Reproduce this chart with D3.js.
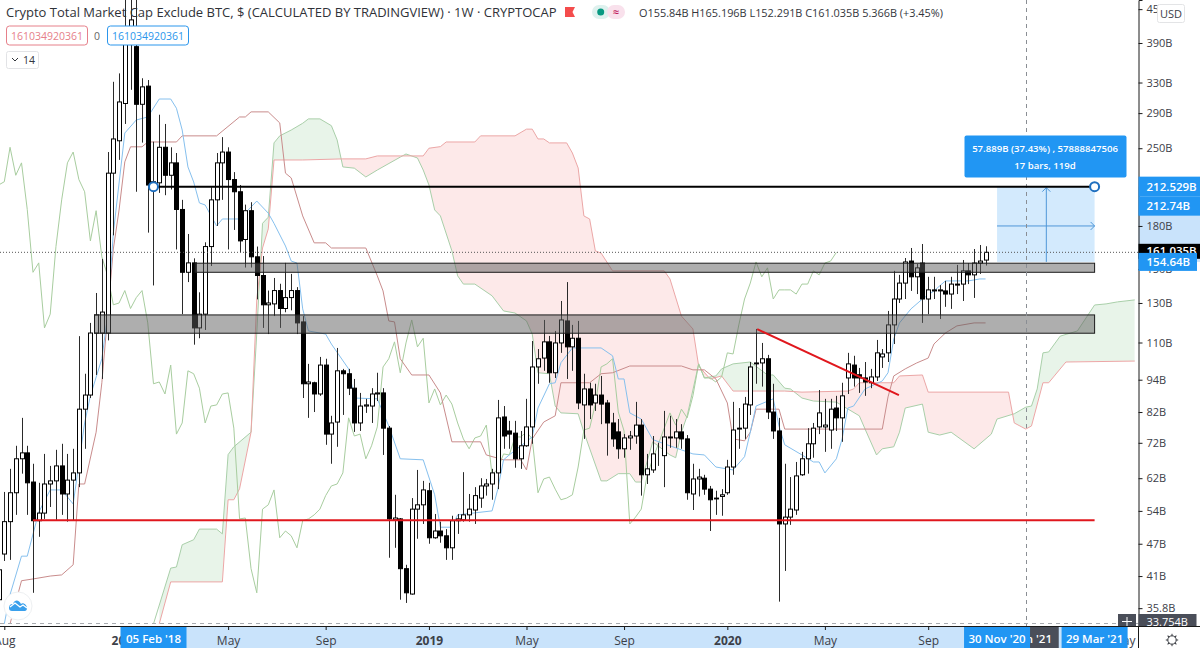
<!DOCTYPE html>
<html>
<head>
<meta charset="utf-8">
<script src="https://cdn.jsdelivr.net/npm/d3@7"></script>
<style>
  body { margin: 0; background: #fff; }
  text { font-family: "Open Sans", sans-serif; }
  .axis text { fill: #3c4048; }
</style>
</head>
<body>
<div id="chart"></div>
<script>
// weekly candles in $B, the first one is the week of 31 Jul 2017
var opens = [37.1,45,51.6,58.3,67.3,69,61,51.8,53.5,60.5,
  61.3,65.3,58,61.5,63.4,83,88.1,114.5,114.5,114.5,
  225,258,302,392,384,301,325,213,216,251,
  223,235,193,148,154,117,124,165,201,235,
  246,219,208,170,192,158,146,129,129.5,137,
  127,133,137,120,92.4,92.8,88.5,100,74.7,78.6,
  97.6,96.4,90.7,78.3,84.1,84.1,88.5,88.9,76.6,52,
  52.2,42.3,38,54.4,55.4,58.8,48.2,49.6,48.6,46.2,
  51.8,52,53.1,54.2,57,60,60.5,63.4,80.3,75.7,
  75,67.3,71.1,77,99.2,103,110.3,96.8,109.8,120.5,
  108,112,84.5,90.4,85.2,88.1,85.2,78.3,75.4,70.2,
  73.5,74.1,77.6,62.9,64.2,68.4,68.2,73.5,73.5,75.4,
  73.2,58,61.8,62,59.2,56.8,57.4,58.3,65,76.3,
  76.6,84.5,100.9,100.9,102.7,82,75.7,51.1,52.6,54.2,
  62.9,67.3,71.7,77,77,76,83.4,80,94.7,100,
  96,94.7,92.8,95.1,103.5,105.3,118.5,132.2,141.4,155.2,
  145.2,153.9,132.2,136.8,136.8,136.8,135,140.2,140.8,148.9,
  146.4,153.9,155.84];
var closes = [42.1,51.6,58.3,67.3,69,60.8,51.8,53.5,60.5,61.3,
  65.3,58,61.5,63.4,83,88.1,114.5,123.6,125.1,225,
  260,304,392,430,301,324,214,217,251,223,
  235,193,148,154,117,124,165,201,235,246,
  219,208,169,192,158,146,129,130,137,127,
  133,137,119.5,92.4,93.1,88.5,100,74.7,78.3,97.6,
  96.4,90.7,78.3,84.1,84.5,88.5,88.9,76.6,52.2,52.4,
  42.3,38.2,54.4,55.4,59,48.2,49.6,48.6,46.2,51.8,
  52.2,53.1,54.4,57.6,60,60.5,63.4,80,74.1,74.7,
  67.3,71.1,77,99.2,102.7,110.3,96.8,109.8,121,108,
  112,85.2,90.4,84.5,88.1,84.8,78.3,73.2,70.2,73.5,
  74.1,77.6,62.9,64.5,68.7,68.4,73.8,73.8,75.4,73.2,
  58.3,61.8,62.3,59.2,56.6,57,57.8,65,76,76.6,
  84.8,99.2,100.5,102.7,82,75.7,51.1,52.6,54.4,62.6,
  67.3,71.7,76.6,81.7,77.6,83,80,87.8,100.5,94.7,
  94.7,93.1,95.1,105.3,104.8,118.5,132.2,141.4,154.6,145.2,
  150.8,132.2,137.4,137.4,137.4,135,140.8,140.8,148.9,146.4,
  153.9,155.2,161.035];
var highs = [45.2,58.5,64.5,71.1,80,71.1,65.9,60.8,68.7,65.3,
  69.9,71.7,68.7,70.2,113,96.4,119.5,135.6,156.6,246,
  331,343,468,468,468,336,333.5,257,288,277,
  251,245,201,174,157,136,168,212,245,262,
  251,226,214,197,199,165,158.5,137,144.5,141,
  154,147,139,123,100.5,93.2,103.5,102.7,80.7,107.5,
  98.4,98.4,94.3,88.9,86.7,90.7,96.8,90.7,77.3,57.8,
  52.4,43,57,64.2,61.3,60.8,53.3,51.6,50,52.9,
  53.3,63.6,58,59.7,62,61.8,64.5,86.3,84.1,79,
  79,75.7,86.7,110.7,107,121,113.1,115.5,131.1,142,
  118.5,120.5,96.4,92.8,92.4,95.5,86.3,81.7,79.6,74.7,
  75.7,85.6,79.6,68.7,74.1,72,82.4,80.7,79.6,77.9,
  74.4,65.9,64.5,62.9,60,58.8,59.2,67,85.6,83.4,
  87.4,101.3,116.5,109.8,104.4,92.4,80,65.9,62.3,66.4,
  69.3,76.6,78.3,90,86.7,86.7,87.8,92.8,105.3,104,
  98.8,101.3,98.4,111.2,107,125.7,148.9,146.4,157.2,164,
  153.3,166.8,145.2,145.2,140.2,142.7,145.2,152.7,155.9,153.9,
  163.3,166.1,165.196];
var lows = [33.4,43.7,43.9,53.1,63.2,53.1,38.2,48.4,52.2,54.9,
  52,53.1,51.6,51.8,59.7,70.2,87,95.9,94.3,111,
  173,238,277,320,208,256,175,140,207,205,
  210,163,124,142,109,112,116,152,180,201,
  163,177,161,151,151,132,117,114,123,117,
  125,126,114,87,80,82,87.8,71.4,65.9,70.8,
  81,88.1,75.4,75.7,81.7,78.3,85.9,68.4,44.3,46.2,
  37.1,36.6,37.9,48,51.1,47,48,47.2,43.9,43.9,
  49,51.6,51.6,51.1,54.7,57.6,56.6,59.2,70.2,70.2,
  64.8,64.5,70.8,71.7,92.4,97.6,92.8,94.7,105.3,94.3,
  97.6,83,73.2,79.6,82.4,77.9,68.2,70.8,67.3,67.6,
  69.9,71.7,57.6,60.5,63.4,65.3,59.7,70.5,70.5,70.2,
  56.6,54.2,57.4,57.8,49.6,53.1,52.9,57.8,62.9,70.2,
  73.2,81,92.4,91.3,79.6,73.2,36.8,41.9,50.9,53.1,
  62.6,63.2,67.6,74.7,69.3,70.2,75.7,72.3,88.5,91.3,
  88.9,87.8,90.7,93.5,98.8,101.3,109.3,130,132.2,136.8,
  135,119.5,124,132.2,121.5,127.9,126.8,135,131.1,140.8,
  132.8,147,152.291];

// ichimoku, [week, $B], week 0 is 07 Aug 2017
var tenkan = [[0,33.5],[1,37.9],[3,44.6],[4,44.6],[6,53.7],[8,59],[10,59],[12,55.6],[14,78.3],[15,87.8],[17,102.7],[18,123],[19,174.7],[21,266.6],[23,281.7],[25,285.3],[27,307.8],[29,307.8],[30,296],[31,270],[32,231],[33,216.8],[34,198.4],[35,196.7],[37,180],[38,185.4],[41,185.4],[44,200],[46,190],[47,182],[49,165.4],[50,155.2],[51,153.9],[52,126.8],[53,115.5],[56,114],[57,109.3],[60,98.4],[61,87],[65,86.7],[67,77.3],[69,67.3],[73,67],[75,57.8],[76,50.4],[78,50.4],[79,53.1],[85,54],[86,59.2],[87,67],[88,68.4],[92,73.8],[93,83.4],[95,92.4],[96,92.8],[97,101],[99,107.5],[104,107.5],[106,104],[107,94.3],[108,94.3],[109,81.7],[111,79.6],[113,73],[115,71.7],[120,68.7],[122,68.4],[124,65],[127,64.2],[129,67.9],[130,75.3],[131,84.1],[134,86.7],[135,77.3],[136,71.4],[139,68.4],[141,66.4],[142,66.4],[143,63.4],[145,67.3],[146,73.2],[147,83.4],[148,84.1],[150,90.4],[153,93.5],[154,96.8],[155,111.7],[156,119.5],[158,126.8],[160,132.2],[162,136.8],[164,142.7],[168,142.7],[170,143.9],[171,143.9]];
var kijun = [[1,33.5],[3,40.2],[5,40.5],[8,41],[10,41.2],[12,43],[13,60.5],[14,60.5],[16,75.3],[17,92.8],[19,163.3],[20,192.6],[21,236],[22,251.5],[24,251.5],[25,256.7],[30,256.7],[31,263.4],[37,263.4],[41,285.3],[42,285.3],[43,291.5],[46,291.5],[48,278.2],[49,225],[50,220.5],[52,187.8],[54,167.6],[56,167.6],[57,164],[63,164],[65,145.8],[66,136.8],[67,120.5],[68,120],[69,102.7],[71,95.9],[74,95.9],[76,88.9],[78,72.3],[83,72.3],[84,68.4],[87,67],[90,67],[91,64.2],[92,73.2],[94,78.6],[96,80.7],[97,92.8],[102,92.8],[104,96.4],[106,96.8],[109,99.6],[118,99.6],[120,98],[122,98],[124,94.3],[126,85.2],[127,73.2],[129,72.6],[130,75.3],[131,83],[135,83],[136,76.3],[146,76.3],[153,76.3],[154,87.4],[155,95.5],[157,98.4],[159,100.9],[161,103],[162,109.3],[164,114.5],[166,118],[169,119.5],[171,119.5]];
var spanA = [[26,33.5],[29,42.4],[30,42.6],[31,46.8],[33,47.8],[34,50],[37,50],[38,49],[39,68.5],[40,70.8],[43,75.3],[44,114.5],[45,182],[46,186.8],[47,255.7],[48,263.4],[50,270],[52,277.8],[53,283],[55,283],[57,275],[58,258.9],[59,231],[61,229.8],[63,221.4],[65,228],[69,240.8],[70,244],[72,239.9],[73,228],[74,214],[75,192.6],[76,187.8],[78,162],[79,145.8],[80,140.8],[82,140.8],[85,134],[87,125.7],[89,124.6],[91,120.5],[92,114],[93,96.8],[95,96.4],[96,84.1],[97,81.7],[100,81.4],[101,75.3],[104,61.3],[105,61.3],[107,63.2],[109,63.2],[110,61],[111,61],[113,72.3],[116,68.4],[117,67.6],[118,75.3],[119,80.7],[120,90],[121,100.5],[122,94.7],[124,95.5],[125,98.4],[127,100.5],[130,101.3],[133,95.9],[134,95.9],[136,90.7],[137,90.4],[139,87],[141,85.9],[145,85.5],[149,80.7],[150,76.3],[152,68.4],[153,70.2],[155,70.8],[156,75.3],[157,83.4],[160,84.8],[161,75.3],[163,74.4],[165,75.3],[169,70.2],[172,74.7],[173,79.6],[176,81.4],[178,83.7],[179,84.1],[180,90.4],[181,105.3],[182,105.7],[184,113],[187,115.5],[190,128.9],[192,129.5],[194,130.6],[197,131.7]];
var spanB = [[27,33.5],[29,40],[38,40],[39,56.6],[40,56.6],[41,59.3],[43,75.3],[44,132.2],[45,164],[46,177.8],[47,237.9],[52,237.9],[59,239],[63,239],[65,242],[69,242],[73,242],[74,250],[76,251.7],[77,256.7],[82,256.7],[83,263.4],[89,263.4],[91,271],[92,271],[93,260],[94,260],[95,255.7],[98,255.7],[99,245],[100,230],[101,187.8],[102,185.4],[103,162],[104,160.5],[106,148.9],[115,148.9],[116,143.9],[118,123],[120,116.5],[121,99.6],[123,94.3],[125,95.5],[127,89.6],[136,89.6],[139,89.2],[147,89.6],[148,90.4],[149,92.8],[155,92.8],[156,95.5],[160,95.9],[161,89.2],[175,89.2],[176,78.3],[178,76.3],[179,77.3],[181,92.8],[182,92.8],[185,101.3],[197,101.7]];
// lagging line, one value a week starting at week -1
var lagging = [214,217,251,223,235,193,148,154,117,124,
  165,201,235,246,219,208,169,192,158,146,
  129,130,137,127,133,137,119.5,92.4,93.1,88.5,
  100,74.7,78.3,97.6,96.4,90.7,78.3,84.1,84.5,88.5,
  88.9,76.6,52.2,52.4,42.3,38.2,54.4,55.4,59,48.2,
  49.6,48.6,46.2,51.8,52.2,53.1,54.4,57.6,60,60.5,
  63.4,80,74.1,74.7,67.3,71.1,77,99.2,102.7,110.3,
  96.8,109.8,121,108,112,85.2,90.4,84.5,88.1,84.8,
  78.3,73.2,70.2,73.5,74.1,77.6,62.9,64.5,68.7,68.4,
  73.8,73.8,75.4,73.2,58.3,61.8,62.3,59.2,56.6,57,
  57.8,65,76,76.6,84.8,99.2,100.5,102.7,82,75.7,
  51.1,52.6,54.4,62.6,67.3,71.7,76.6,81.7,77.6,83,
  80,87.8,100.5,94.7,94.7,93.1,95.1,105.3,104.8,118.5,
  132.2,141.4,154.6,145.2,150.8,132.2,137.4,137.4,137.4,135,
  140.8,140.8,148.9,146.4,153.9,155.2,161];

var priceTicks = [450,390,330,290,250,180,150,130,110,94,82,72,62,54,47,41,35.8];
var timeTicks = [[2017,7,7],[2018,0,1],[2018,4,7],[2018,8,3],[2019,0,7],[2019,4,6],[2019,8,2],[2020,0,6],[2020,4,4],[2020,8,7],[2021,4,3]]
  .map(function(d) { return new Date(Date.UTC(d[0], d[1], d[2])); });

// drawings
var supply = [153.8, 148];      // upper grey band
var demand = [123.6, 114.4];    // lower grey band
var redSupport = 51.9;
var target = 212.529;
var rangeLow = 154.64;
var lastClose = 161.035;
var trendFrom = [131.2, 116.4], trendTo = [155.9, 88.1];
var rangeStart = new Date(Date.UTC(2020, 10, 30)), rangeEnd = new Date(Date.UTC(2021, 2, 29));
var anchorDate = new Date(Date.UTC(2018, 1, 5)), cursorDate = new Date(Date.UTC(2021, 0, 4));
var firstWeek = new Date(Date.UTC(2017, 7, 7));

var width = 1200, height = 648, plotBottom = 626, axisX = 1138.5;

var svg = d3.select("#chart").append("svg")
  .attr("width", width)
  .attr("height", height)
  .style("display", "block");

var x = d3.scaleUtc()
  .domain([firstWeek, rangeEnd])
  .range([4.3, 1094.6]);

var y = d3.scaleLog()
  .domain([467.7, 33.2])
  .range([0, plotBottom]);

function weekDate(w) { return new Date(+firstWeek + w * 7 * 864e5); }
function weekX(w) { return x(weekDate(w)); }
function px(v) { return Math.round(v) + 0.5; }

svg.append("clipPath").attr("id", "plot").append("rect")
  .attr("width", axisX).attr("height", plotBottom);

var plot = svg.append("g").attr("clip-path", "url(#plot)");

// cloud, both spans on a common set of weeks
function spanAt(span, w) {
  var i = d3.bisector(function(d) { return d[0]; }).left(span, w);
  if (i === 0) return y(span[0][1]);
  if (i >= span.length) return y(span[span.length - 1][1]);
  var a = span[i - 1], b = span[i];
  return y(a[1]) + (y(b[1]) - y(a[1])) * (w - a[0]) / (b[0] - a[0]);
}
var cloudWeeks = d3.range(27, 197.01, 0.25);

var cloudArea = d3.area()
  .x(function(w) { return weekX(w); })
  .y0(function(w) { return spanAt(spanA, w); })
  .y1(function(w) { return spanAt(spanB, w); });

svg.append("clipPath").attr("id", "aboveB").append("path")
  .attr("d", d3.area()
    .x(function(w) { return weekX(w); })
    .y0(0)
    .y1(function(w) { return spanAt(spanB, w); })(cloudWeeks));
svg.append("clipPath").attr("id", "belowB").append("path")
  .attr("d", d3.area()
    .x(function(w) { return weekX(w); })
    .y0(function(w) { return spanAt(spanB, w); })
    .y1(plotBottom)(cloudWeeks));

plot.append("path").attr("d", cloudArea(cloudWeeks))
  .attr("fill", "#e8f4e9").attr("clip-path", "url(#aboveB)");
plot.append("path").attr("d", cloudArea(cloudWeeks))
  .attr("fill", "#fde9e9").attr("clip-path", "url(#belowB)");

var line = d3.line()
  .x(function(d) { return weekX(d[0]); })
  .y(function(d) { return y(d[1]); });

function drawLine(data, color) {
  plot.append("path")
    .attr("d", line(data))
    .attr("fill", "none")
    .attr("stroke", color)
    .attr("stroke-width", 1);
}
drawLine(spanA, "#a9cfa9");
drawLine(spanB, "#eca6a6");
drawLine(lagging.map(function(v, i) { return [i - 1, v]; }), "#a8cd9f");
drawLine(kijun, "#c98c8c");
drawLine(tenkan, "#86c0ee");

// candles
var bars = opens.map(function(o, i) {
  return {week: i - 1, open: o, close: closes[i], high: highs[i], low: lows[i]};
});

var candle = plot.append("g").selectAll("g")
  .data(bars)
  .enter().append("g");

candle.append("line")
  .attr("x1", function(d) { return px(weekX(d.week)); })
  .attr("x2", function(d) { return px(weekX(d.week)); })
  .attr("y1", function(d) { return y(d.high); })
  .attr("y2", function(d) { return y(d.low); })
  .attr("stroke", "#2a2a2a");

candle.append("rect")
  .attr("x", function(d) { return px(weekX(d.week)) - 2; })
  .attr("width", 4)
  .attr("y", function(d) { return y(Math.max(d.open, d.close)); })
  .attr("height", function(d) { return Math.abs(y(d.open) - y(d.close)); })
  .attr("fill", function(d) { return d.close >= d.open ? "#fff" : "#000"; })
  .attr("stroke", "#000");

// grey bands sit above the candles
function band(startWeek, values) {
  plot.append("rect")
    .attr("x", weekX(startWeek))
    .attr("width", x(rangeEnd) - weekX(startWeek))
    .attr("y", y(values[0]))
    .attr("height", y(values[1]) - y(values[0]))
    .attr("fill", "#5e5e5e")
    .attr("fill-opacity", 0.5)
    .attr("stroke", "#1c1c1c");
}
band(33.25, supply);
band(15.72, demand);

// price range box
plot.append("rect")
  .attr("x", x(rangeStart))
  .attr("width", x(rangeEnd) - x(rangeStart))
  .attr("y", y(target))
  .attr("height", y(rangeLow) - y(target))
  .attr("fill", "#2196f3")
  .attr("fill-opacity", 0.2);

var midX = (x(rangeStart) + x(rangeEnd)) / 2 + 0.5;
var midY = y(180);
var arrowColor = "#4f97d8";
plot.append("path")
  .attr("d", "M" + midX + "," + y(rangeLow) + "V" + (y(target) + 1) + "m-4,4l4,-4l4,4" +
    "M" + x(rangeStart) + "," + midY + "H" + x(rangeEnd) + "m-4,-4l4,4l-4,4")
  .attr("fill", "none")
  .attr("stroke", arrowColor);

// last price dotted line and crosshair
plot.append("line")
  .attr("x1", 0).attr("x2", axisX)
  .attr("y1", y(lastClose)).attr("y2", y(lastClose))
  .attr("stroke", "#555").attr("stroke-dasharray", "1,2");
plot.append("line")
  .attr("x1", px(x(cursorDate))).attr("x2", px(x(cursorDate)))
  .attr("y1", 0).attr("y2", plotBottom)
  .attr("stroke", "#8a8e94").attr("stroke-dasharray", "4,4");
plot.append("line")
  .attr("x1", 0).attr("x2", axisX)
  .attr("y1", 623.5).attr("y2", 623.5)
  .attr("stroke", "#a8abb0").attr("stroke-dasharray", "4,4");

// support, target and trend lines
plot.append("line")
  .attr("x1", weekX(5)).attr("x2", x(rangeEnd))
  .attr("y1", y(redSupport)).attr("y2", y(redSupport))
  .attr("stroke", "#e0171d").attr("stroke-width", 2);
plot.append("line")
  .attr("x1", weekX(trendFrom[0])).attr("x2", weekX(trendTo[0]))
  .attr("y1", y(trendFrom[1])).attr("y2", y(trendTo[1]))
  .attr("stroke", "#e0171d").attr("stroke-width", 2);
plot.append("line")
  .attr("x1", x(anchorDate)).attr("x2", x(rangeEnd))
  .attr("y1", y(target)).attr("y2", y(target))
  .attr("stroke", "#000").attr("stroke-width", 2);

plot.selectAll(".handle")
  .data([anchorDate, rangeEnd])
  .enter().append("circle")
  .attr("class", "handle")
  .attr("cx", function(d) { return x(d); })
  .attr("cy", y(target))
  .attr("r", 4.5)
  .attr("fill", "#fff")
  .attr("stroke", "#1f6fbf")
  .attr("stroke-width", 2);

// range tooltip
var tip = svg.append("g");
tip.append("rect")
  .attr("x", 964.5).attr("y", 135.5)
  .attr("width", 162).attr("height", 42).attr("rx", 2)
  .attr("fill", "#2196f3");
tip.selectAll("text")
  .data(["57.889B (37.43%) , 57888847506", "17 bars, 119d"])
  .enter().append("text")
  .attr("x", 1045)
  .attr("y", function(d, i) { return 152 + i * 17; })
  .attr("text-anchor", "middle")
  .attr("fill", "#fff")
  .attr("font-size", 9.6)
  .attr("font-weight", 600)
  .text(function(d) { return d; });

// right axis
svg.append("rect")
  .attr("x", axisX).attr("y", y(target))
  .attr("width", width - axisX).attr("height", y(rangeLow) - y(target))
  .attr("fill", "#c9e3fb");

var yAxis = svg.append("g")
  .attr("class", "axis")
  .attr("transform", "translate(" + axisX + ",0)")
  .call(d3.axisRight(y).tickValues(priceTicks).tickSize(4).tickPadding(4)
    .tickFormat(function(d) { return d + "B"; }));
yAxis.selectAll("text").attr("font-size", 11).style("font-family", "'Open Sans', sans-serif");
yAxis.selectAll("path,line").attr("stroke", "#1a1a1a");

function priceTag(cy, w, h, fill, label, weight) {
  var g = svg.append("g");
  g.append("rect")
    .attr("x", axisX).attr("y", cy - h / 2)
    .attr("width", w).attr("height", h)
    .attr("fill", fill);
  g.append("text")
    .attr("x", axisX + 8).attr("y", cy + 4)
    .attr("fill", "#fff")
    .attr("font-size", 11.5)
    .attr("font-weight", weight)
    .text(label);
}
priceTag(y(lastClose) - 1, 61.5, 15, "#000", "161.035B", 600);
priceTag(y(target), 61.5, 20, "#2196f3", "212.529B", 600);
priceTag(y(target) + 19.5, 61.5, 19, "#2196f3", "212.74B", 600);
priceTag(y(rangeLow), 58.5, 18, "#2196f3", "154.64B", 600);

// crosshair price tag, cut by the time axis
svg.append("rect").attr("x", axisX).attr("y", 614).attr("width", 58).attr("height", 12).attr("fill", "#4a4e59");
svg.append("text").attr("x", axisX + 8).attr("y", 626).attr("fill", "#fff").attr("font-size", 11).text("33.754B");
svg.append("rect").attr("x", 1118).attr("y", 614).attr("width", 18).attr("height", 12).attr("fill", "#4a4e59");
svg.append("path").attr("d", "M1122,621.5H1132M1127,617V626").attr("stroke", "#fff");

svg.append("rect")
  .attr("x", 1157.5).attr("y", 4.5).attr("width", 27).attr("height", 18).attr("rx", 2)
  .attr("fill", "#fff").attr("stroke", "#e3e4e6");
svg.append("text")
  .attr("x", 1171).attr("y", 17.5).attr("text-anchor", "middle")
  .attr("font-size", 11).attr("fill", "#3c4048").text("USD");

// time axis
svg.append("rect").attr("x", x(anchorDate)).attr("y", plotBottom + 0.5)
  .attr("width", x(rangeEnd) - x(anchorDate)).attr("height", height - plotBottom)
  .attr("fill", "#c9e3fb");

var xAxis = svg.append("g")
  .attr("class", "axis")
  .attr("transform", "translate(0," + plotBottom + ")")
  .call(d3.axisBottom(x).tickValues(timeTicks).tickSize(4).tickPadding(6)
    .tickFormat(function(d) {
      return d.getUTCMonth() === 0 ? d3.utcFormat("%Y")(d) : d3.utcFormat("%b")(d);
    }));
xAxis.select(".domain").remove();
xAxis.selectAll("line").attr("stroke", "#1a1a1a");
xAxis.selectAll("text")
  .attr("font-size", 12)
  .attr("font-weight", function(d) { return d.getUTCMonth() === 0 ? 700 : 400; })
  .style("font-family", "'Open Sans', sans-serif");

function timeTag(date, fill, label) {
  var cx = x(date);
  svg.append("rect")
    .attr("x", cx - 33).attr("y", plotBottom + 0.5)
    .attr("width", 66).attr("height", height - plotBottom)
    .attr("fill", fill);
  svg.append("text")
    .attr("x", cx).attr("y", 643).attr("text-anchor", "middle")
    .attr("fill", "#fff").attr("font-size", 11.5).attr("font-weight", 600)
    .text(label);
}
timeTag(cursorDate, "#4a4e59", "04 Jan '21");
timeTag(anchorDate, "#2196f3", "05 Feb '18");
timeTag(rangeStart, "#2196f3", "30 Nov '20");
timeTag(rangeEnd, "#2196f3", "29 Mar '21");

svg.append("line").attr("x1", 0).attr("x2", width)
  .attr("y1", plotBottom + 0.5).attr("y2", plotBottom + 0.5).attr("stroke", "#1a1a1a");
svg.append("line").attr("x1", axisX).attr("x2", axisX)
  .attr("y1", plotBottom).attr("y2", height).attr("stroke", "#1a1a1a");

// settings gear
var gear = svg.append("g").attr("transform", "translate(1172,640)")
  .attr("fill", "none").attr("stroke", "#33363c");
gear.append("circle").attr("r", 4.2);
gear.selectAll("line").data(d3.range(8)).enter().append("line")
  .attr("y1", 4.2).attr("y2", 6.2)
  .attr("transform", function(d) { return "rotate(" + d * 45 + ")"; });

// legend
var title = "Crypto Total Market Cap Exclude BTC, $ (CALCULATED BY TRADINGVIEW) \u00b7 1W \u00b7 CRYPTOCAP";
svg.append("text").attr("x", 6).attr("y", 17)
  .attr("font-size", 13).attr("fill", "#2f3238").text(title);

svg.append("path").attr("d", "M565,7H575L572.5,12L575,17H565Z").attr("fill", "#f44c4c");

svg.append("rect").attr("x", 592).attr("y", 5).attr("width", 18).attr("height", 14).attr("rx", 7).attr("fill", "#def1ee");
svg.append("rect").attr("x", 607).attr("y", 5).attr("width", 18).attr("height", 14).attr("rx", 7).attr("fill", "#f9e1ec");
svg.append("circle").attr("cx", 600.7).attr("cy", 12).attr("r", 3.5).attr("fill", "#089981");
svg.append("text").attr("x", 616).attr("y", 16).attr("text-anchor", "middle")
  .attr("font-size", 11).attr("font-weight", 600).attr("fill", "#c2185b").text("\u2248");

svg.append("text").attr("x", 639).attr("y", 17)
  .attr("font-size", 10.9).attr("fill", "#33363c")
  .text("O155.84B  H165.196B  L152.291B  C161.035B  5.366B (+3.45%)");

function legendBox(bx, bw, color, label) {
  svg.append("rect")
    .attr("x", bx + 0.5).attr("y", 26)
    .attr("width", bw).attr("height", 19).attr("rx", 3)
    .attr("fill", "#fff").attr("stroke", color);
  svg.append("text")
    .attr("x", bx + bw / 2 + 0.5).attr("y", 40)
    .attr("text-anchor", "middle").attr("font-size", 10.5)
    .attr("fill", color).text(label);
}
legendBox(6, 81, "#e6808a", "161034920361");
svg.append("text").attr("x", 97).attr("y", 40).attr("text-anchor", "middle")
  .attr("font-size", 10.5).attr("fill", "#666").text("0");
legendBox(107, 81, "#2b96ec", "161034920361");

svg.append("rect").attr("x", 6.5).attr("y", 51.5).attr("width", 32).attr("height", 17).attr("rx", 2)
  .attr("fill", "#fff").attr("stroke", "#e2e3e6");
svg.append("path").attr("d", "M12,58L15,61L18,58").attr("fill", "none").attr("stroke", "#33363c");
svg.append("text").attr("x", 23).attr("y", 64).attr("font-size", 10.5).attr("fill", "#33363c").text("14");

// logo
var logo = svg.append("g").attr("transform", "translate(18,606)");
logo.append("circle").attr("r", 14).attr("fill", "#fff").attr("stroke", "#eef0f2");
logo.append("path")
  .attr("d", "M-9,2C-9,-2 -6,-2 -5,-2C-3,-7 1,-6 3,-2C5,-4 9,-1 9,2C9,5 7,5 6,5H-6C-8,5 -9,4 -9,2Z")
  .attr("fill", "#3aa0ec");
logo.append("path").attr("d", "M-8,1L-3,-3L2,1L5,-1L9,2")
  .attr("fill", "none").attr("stroke", "#fff").attr("stroke-width", 1.3);
</script>
</body>
</html>
